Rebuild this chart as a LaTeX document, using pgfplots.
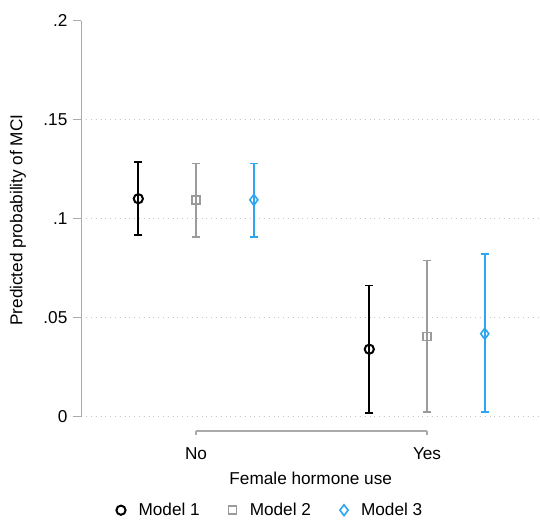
\documentclass[border=0pt]{standalone}
\usepackage{pgfplots}
\pgfplotsset{compat=1.18}
\usepackage{fontspec}
\setmainfont{Liberation Sans}
\definecolor{mgray}{RGB}{155,155,155}
\definecolor{mblue}{RGB}{45,165,240}
\definecolor{axgray}{RGB}{170,170,170}
\begin{document}
\fontsize{8.6pt}{10pt}\selectfont
\begin{tikzpicture}[font=\fontsize{8.6pt}{10pt}\selectfont]
\useasboundingbox (-40.75pt,-45pt) rectangle (229.25pt,215.5pt);
\begin{axis}[
at={(0,0)}, anchor=south west,
scale only axis,
width=229.25pt, height=205.15pt,
xmin=-0.496, xmax=1.489,
ymin=-0.00722, ymax=0.2,
clip=false,
axis lines=left,
axis line style={draw=none, -},
xtick={0,1}, xticklabels={No,Yes},
ytick={0,0.05,0.1,0.15}, yticklabels={0,.05,.1,.15},
extra y ticks={0.2}, extra y tick labels={.2},
extra y tick style={grid=none},
tick align=outside,
major tick length=4pt,
tick style={axgray, line width=0.5pt},
x tick style={draw=none},
x tick label style={yshift=-1.5pt},
ymajorgrids,
major grid style={dotted, gray!45, line width=0.4pt},
xlabel={Female hormone use},
ylabel={Predicted probability of MCI},
xlabel style={at={(axis description cs:0.5,-0.115)}, anchor=center},
ylabel style={at={(axis description cs:-0.1385,0.514)}, anchor=center},
legend columns=-1,
legend style={draw=none, fill=none, at={(axis description cs:0.414,-0.193)}, anchor=center,
  /tikz/every odd column/.append style={column sep=4.5pt},
  /tikz/every even column/.append style={column sep=12.5pt}},
legend cell align=left,
]
\addplot[only marks, black, mark=o, mark size=2.3pt, mark options={line width=1pt},
  error bars/.cd, y dir=both, y explicit, error mark=|,
  error bar style={line width=0.9pt, black},
  error mark options={line width=0.9pt, mark size=2pt, black}]
coordinates {
(-0.25,0.1101) += (0,0.0185) -= (0,0.0182)
(0.75,0.0341) += (0,0.0322) -= (0,0.0321)
};
\addlegendentry{Model 1}
\addplot[only marks, mgray, mark=square, mark size=2pt, mark options={line width=0.7pt},
  error bars/.cd, y dir=both, y explicit, error mark=|,
  error bar style={line width=0.8pt, mgray},
  error mark options={line width=0.8pt, mark size=2pt, mgray}]
coordinates {
(0,0.1095) += (0,0.0183) -= (0,0.0186)
(1,0.0406) += (0,0.0383) -= (0,0.0381)
};
\addlegendentry{Model 2}
\addplot[only marks, mblue, mark=diamond, mark size=2.7pt, mark options={line width=0.8pt},
  error bars/.cd, y dir=both, y explicit, error mark=|,
  error bar style={line width=0.8pt, mblue},
  error mark options={line width=0.8pt, mark size=2pt, mblue}]
coordinates {
(0.25,0.1095) += (0,0.0183) -= (0,0.0186)
(1.25,0.0419) += (0,0.0402) -= (0,0.0394)
};
\addlegendentry{Model 3}
\draw[axgray, line width=0.6pt] (axis cs:-0.496,0) -- (axis cs:-0.496,0.2);
\draw[axgray, line width=0.6pt] (axis cs:0,-0.00722) -- (axis cs:1,-0.00722);
\draw[axgray, line width=0.6pt] (axis cs:0,-0.00722) -- ++(0pt,-2pt);
\draw[axgray, line width=0.6pt] (axis cs:1,-0.00722) -- ++(0pt,-2pt);
\end{axis}
\end{tikzpicture}
\end{document}
